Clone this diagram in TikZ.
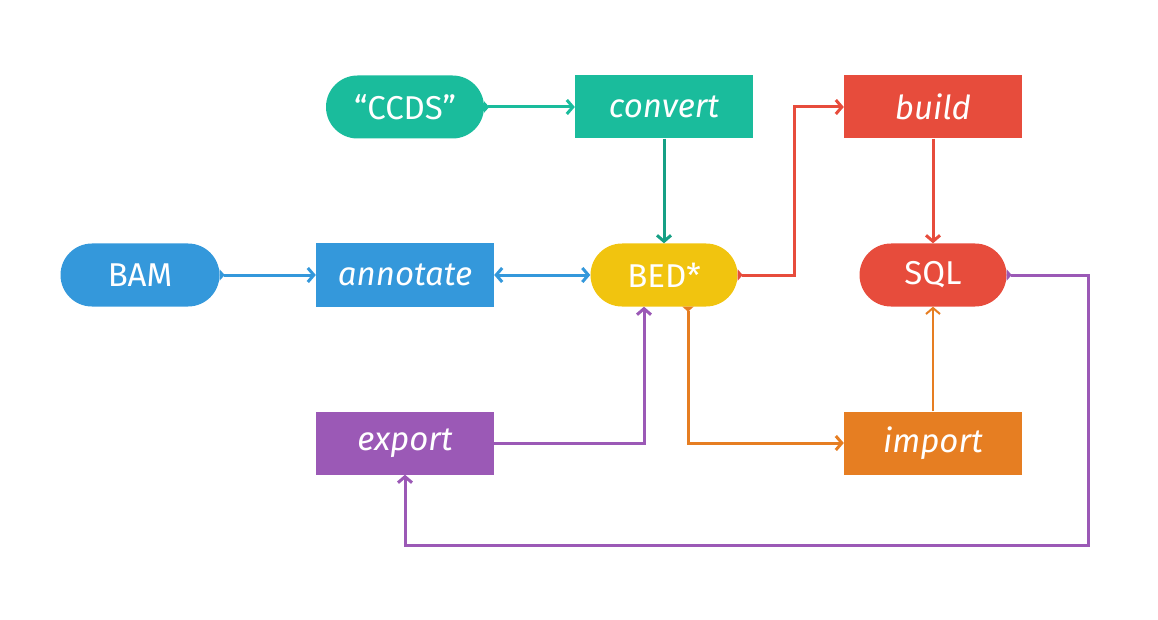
\documentclass[tikz,border=0pt]{standalone}
\usepackage{fontspec}
\setmainfont{Fira Sans}
\usepackage{xcolor}
\usepackage{tikz}
\usetikzlibrary{arrows.meta,positioning,calc}

\definecolor{cteal}{HTML}{1ABC9C}
\definecolor{cdteal}{HTML}{16A085}
\definecolor{cblue}{HTML}{3498DB}
\definecolor{cred}{HTML}{E74C3C}
\definecolor{cyellow}{HTML}{F1C40F}
\definecolor{cpurple}{HTML}{9B59B6}
\definecolor{corange}{HTML}{E67E22}

\begin{document}
\begin{tikzpicture}[
  x=1pt, y=-1pt,
  box/.style={fill=#1, text=white, minimum width=178pt, minimum height=63pt, inner sep=0pt, font=\fontsize{33}{39}\selectfont\itshape},
  pill/.style={fill=#1, text=white, rounded corners=31.5pt, minimum height=63pt, inner sep=0pt, font=\fontsize{33}{39}\selectfont},
  arr/.style={draw=#1, line width=3pt, -{Straight Barb[length=6pt,width=14pt]}},
  tarr/.style={draw=#1, line width=3pt, {Triangle[reversed,length=5pt,width=11pt]}-{Straight Barb[length=6pt,width=14pt]}}
]
\useasboundingbox (0,0) rectangle (1158,620);

% top row
\node[pill=cteal, minimum width=158pt] (ccds) at (405,107) {“CCDS”};
\node[box=cteal] (convert) at (664,107) {convert};
\node[box=cred] (build) at (933,107) {build};

% middle row
\node[pill=cblue, minimum width=159pt] (bam) at (140,275) {BAM};
\node[box=cblue] (annotate) at (405,275) {annotate};
\node[pill=cyellow, minimum width=147pt] (bed) at (664,275) {BED*};
\node[pill=cred, minimum width=147pt] (sql) at (933,275) {SQL};

% bottom row
\node[box=cpurple] (export) at (405,443) {export};
\node[box=corange] (import) at (933,443) {import};

\coordinate (loop) at (1088,545);

\draw[tarr=cteal] (ccds) -- (convert);
\draw[arr=cdteal] (convert) -- (bed);
\draw[tarr=cred] (bed.east) -- ++(57,0) |- (build.west);
\draw[arr=cred] (build) -- (sql);
\draw[tarr=cblue] (bam) -- (annotate);
\draw[arr=cblue, {Straight Barb[length=6pt,width=14pt]}-{Straight Barb[length=6pt,width=14pt]}] (annotate) -- (bed);
\draw[tarr=corange] ([xshift=24pt]bed.south) |- (import.west);
\draw[arr=corange, line width=2pt] (import) -- (sql);
\draw[arr=cpurple] (export.east) -| ([xshift=-20pt]bed.south);
\draw[tarr=cpurple] (sql.east) -| (loop) -| (export.south);
\end{tikzpicture}
\end{document}
